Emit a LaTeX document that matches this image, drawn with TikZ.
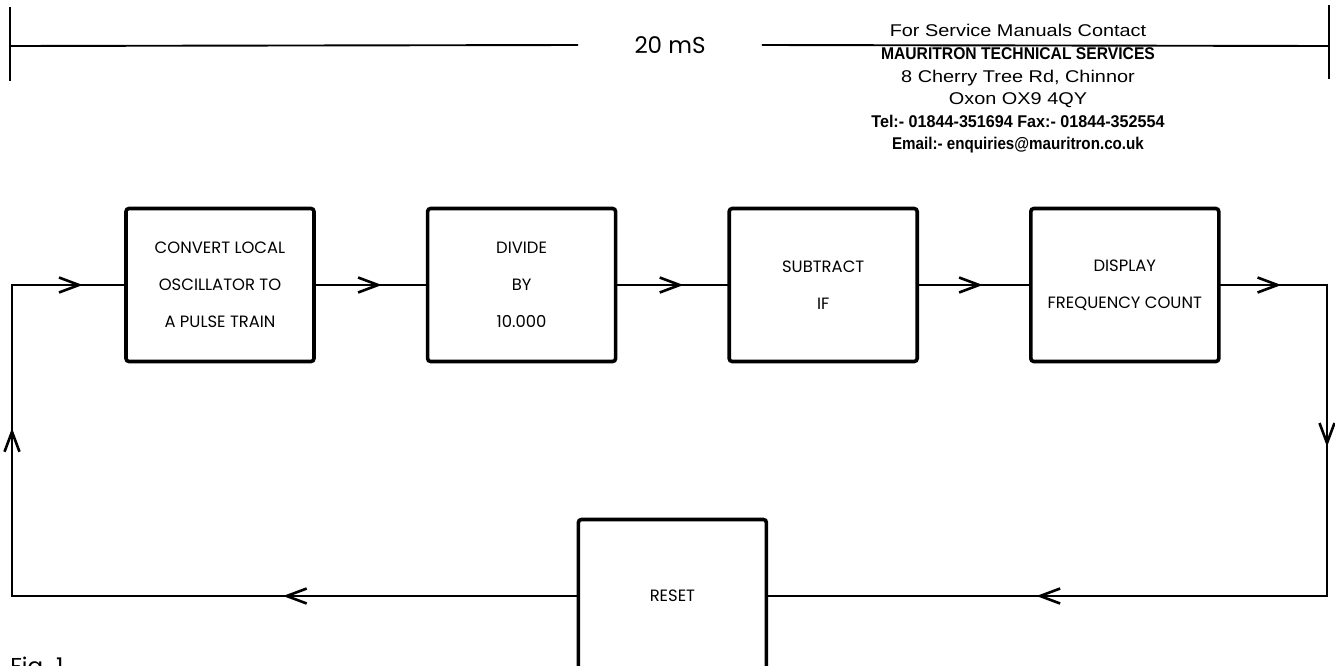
\documentclass[tikz,border=0pt]{standalone}
\usepackage{fontspec}
\usepackage{graphicx}
\setmainfont{Poppins}
\newfontfamily\contactfont[FakeStretch=1.17]{Liberation Sans}
\newfontfamily\contactbold[FakeStretch=0.95]{Liberation Sans}
\usepackage{tikz}
\usetikzlibrary{arrows.meta,positioning,calc,decorations.markings}
\tikzset{
  blk/box/.style={draw, rounded corners=1.5pt, line width=1.8pt, minimum width=94pt, minimum height=76.5pt, inner sep=0pt, align=center, font=\fontsize{8.2}{18.5}\selectfont},
  blk/line/.style={line width=0.95pt, line cap=rect},
  blk/flow/.style={blk/line, postaction={decorate},
    decoration={markings, mark=at position #1 with {\arrow[line width=1.3pt]{Straight Barb[length=10pt,width=7.5pt]}}}},
  blk/label/.style={inner sep=0pt, font=\fontsize{11.5}{14}\selectfont},
  blk/contact/.style={inner sep=0pt, align=center, font=\contactfont\fontsize{8.5}{11.3}\selectfont}
}

\begin{document}
\begin{tikzpicture}[x=0.5pt, y=-0.5pt, node distance=55pt]
  \useasboundingbox (0,0) rectangle (1335,665);

  % Time scale across the top
  \coordinate (tl) at (10,46);
  \coordinate (tr) at (1329,46);
  \node[blk/label, inner xsep=28.5pt] (period) at (670,45) {20 mS};
  \draw[blk/line] (tl) -- (period.west) (period.east) -- (tr);
  \draw[blk/line] ($(tl)+(0,-38)$) -- ($(tl)+(0,34)$);
  \draw[blk/line] ($(tr)+(0,-40)$) -- ($(tr)+(0,32)$);

  \node[blk/contact] (contact) at (1018,89) {For Service Manuals Contact\\
    {\contactbold\bfseries\scalebox{0.97}[1]{MAURITRON TECHNICAL SERVICES}}\\
    8 Cherry Tree Rd, Chinnor\\
    Oxon OX9 4QY\\
    {\contactbold\bfseries Tel:- 01844-351694 Fax:- 01844-352554}\\
    {\contactbold\bfseries\scalebox{0.94}[1]{Email:- enquiries@mauritron.co.uk}}};

  % Processing chain
  \node[blk/box] (conv) at (220,285) {CONVERT LOCAL\\OSCILLATOR TO\\A PULSE TRAIN};
  \node[blk/box, right=of conv] (div) {DIVIDE\\BY\\10.000};
  \node[blk/box, right=of div] (sub) {SUBTRACT\\IF};
  \node[blk/box, right=of sub] (disp) {DISPLAY\\FREQUENCY COUNT};
  \node[blk/box] (reset) at ($(div)!0.5!(sub)+(0,311)$) {RESET};

  % Loop corners
  \coordinate (nw) at (12,285);
  \coordinate (ne) at (1327,285);
  \coordinate (se) at (1327,596);
  \coordinate (sw) at (12,596);

  \draw[blk/flow=0.63] (nw) -- (conv);
  \draw[blk/flow=0.6] (conv) -- (div);
  \draw[blk/flow=0.6] (div) -- (sub);
  \draw[blk/flow=0.58] (sub) -- (disp);
  \draw[blk/flow=0.57] (disp) -- (ne);
  \draw[blk/flow=0.52] (ne) -- (se);
  \draw[blk/flow=0.52] (se) -- (reset);
  \draw[blk/flow=0.52] (reset) -- (sw);
  \draw[blk/flow=0.54] (sw) -- (nw);

  \node[blk/label, anchor=north west] (fig) at (10,657) {Fig. 1};
\end{tikzpicture}
\end{document}
